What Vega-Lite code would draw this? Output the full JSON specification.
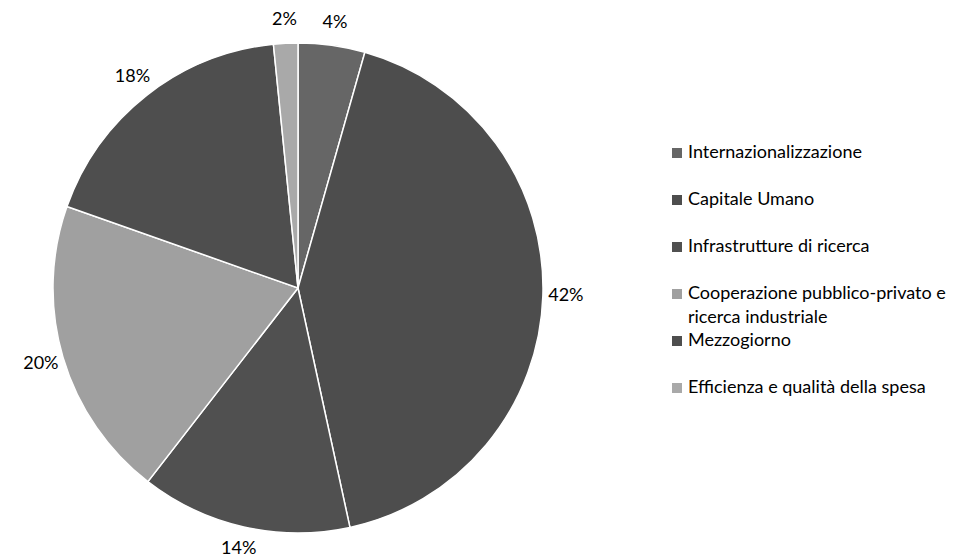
{
  "$schema": "https://vega.github.io/schema/vega-lite/v6.json",
  "width": 596,
  "height": 540,
  "autosize": {"type": "none"},
  "padding": {"left": 0, "top": 18, "right": 361, "bottom": 2},
  "background": "white",
  "config": {"view": {"stroke": null}, "font": "Lato", "style": {"guide-label": {"lineHeight": 24}}},
  "data": {
    "values": [
      {"category": "Internazionalizzazione", "share": 0.044, "order": 1},
      {"category": "Capitale Umano", "share": 0.422, "order": 2},
      {"category": "Infrastrutture di ricerca", "share": 0.139, "order": 3},
      {"category": "Cooperazione pubblico-privato e ricerca industriale", "share": 0.199, "order": 4},
      {"category": "Mezzogiorno", "share": 0.180, "order": 5},
      {"category": "Efficienza e qualità della spesa", "share": 0.016, "order": 6}
    ]
  },
  "encoding": {
    "theta": {"field": "share", "type": "quantitative", "stack": true},
    "order": {"field": "order", "type": "quantitative"}
  },
  "layer": [
    {
      "mark": {"type": "arc", "outerRadius": 245, "stroke": "white", "strokeWidth": 1.5},
      "encoding": {
        "color": {
          "field": "category",
          "type": "nominal",
          "scale": {
            "domain": ["Internazionalizzazione", "Capitale Umano", "Infrastrutture di ricerca", "Cooperazione pubblico-privato e ricerca industriale", "Mezzogiorno", "Efficienza e qualità della spesa"],
            "range": ["#666666", "#4d4d4d", "#505050", "#a0a0a0", "#4e4e4e", "#a9a9a9"]
          },
          "legend": {
            "title": null,
            "orient": "none",
            "legendX": 668,
            "legendY": 126,
            "symbolType": "square",
            "symbolSize": 100,
            "symbolStrokeWidth": 0,
            "labelFont": "Lato",
            "labelFontSize": 18,
            "labelColor": "#000000",
            "labelOffset": 2,
            "labelLimit": 400,
            "rowPadding": 5,
            "labelExpr": "datum.label == 'Cooperazione pubblico-privato e ricerca industriale' ? ['Cooperazione pubblico-privato e', 'ricerca industriale'] : [datum.label, '']",
            "encode": {
              "labels": {
                "update": {
                  "lineHeight": {"value": 24},
                  "dy": {"value": 12}
                }
              }
            }
          }
        }
      }
    },
    {
      "mark": {"type": "text", "radius": 268, "fontSize": 18, "font": "Lato", "color": "#000000"},
      "encoding": {
        "text": {"field": "share", "type": "quantitative", "format": ".0%"}
      }
    }
  ]
}
